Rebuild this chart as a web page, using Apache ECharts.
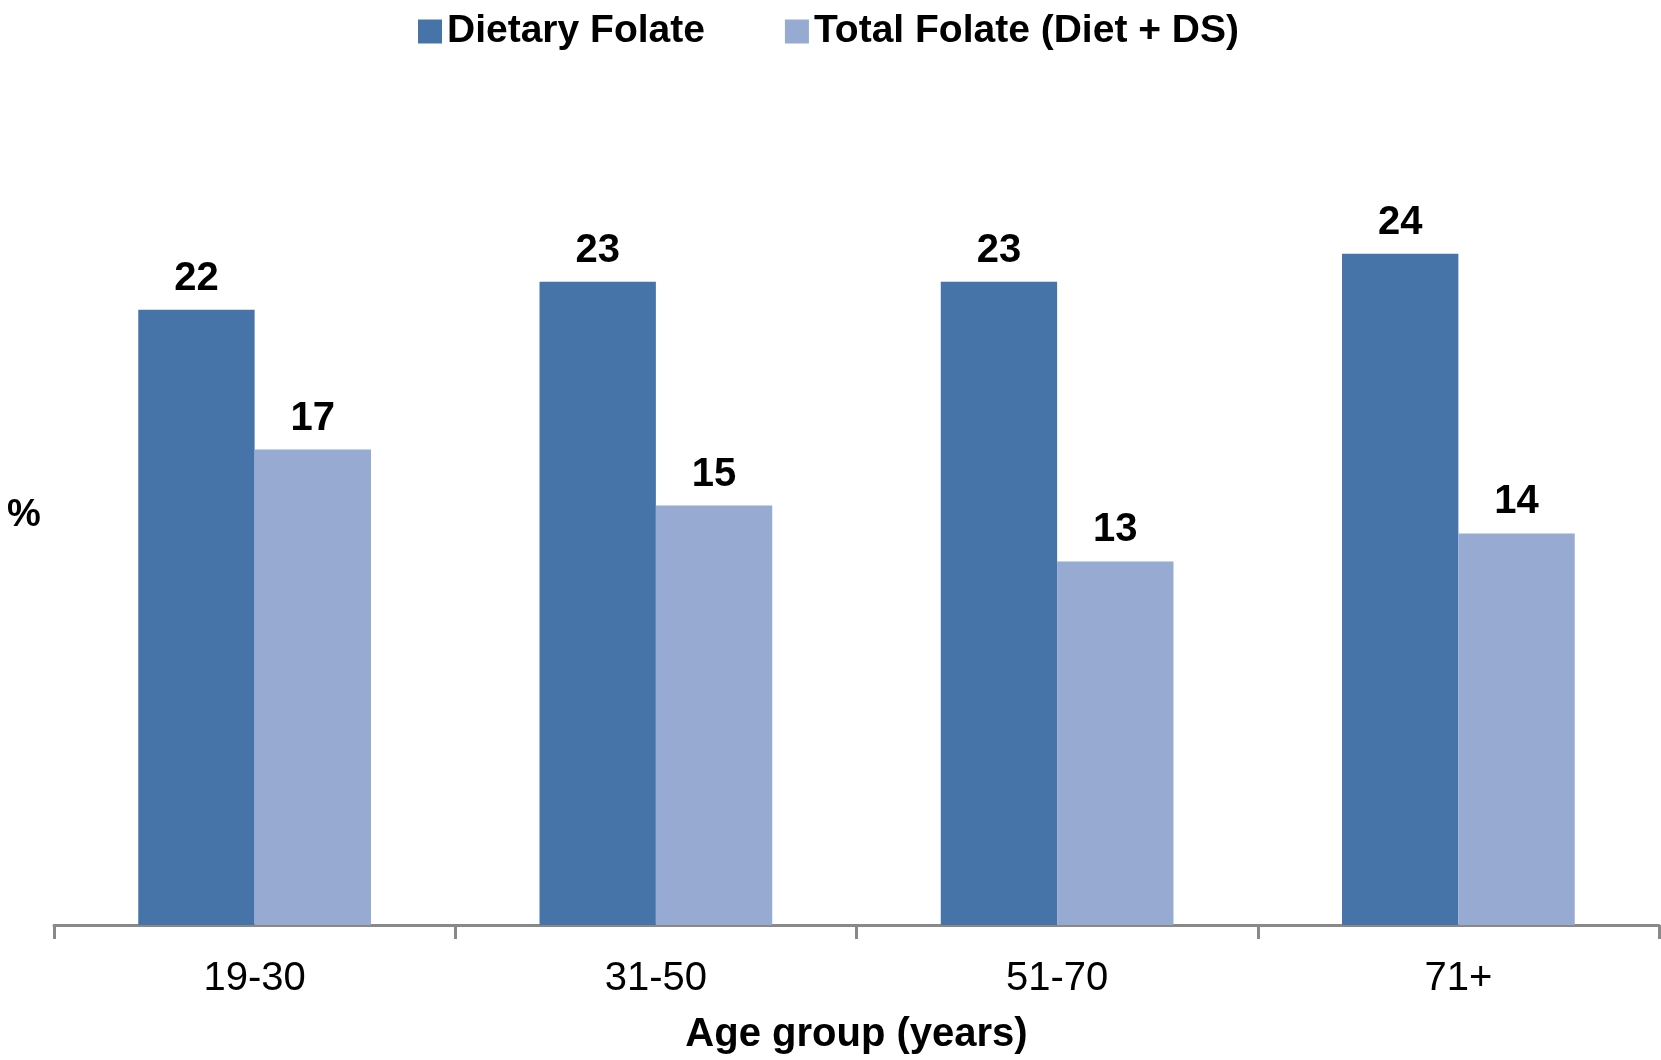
<!DOCTYPE html>
<html>
<head>
<meta charset="utf-8">
<style>
  html, body { margin: 0; padding: 0; background: #ffffff; }
  #chart { width: 1661px; height: 1060px; }
</style>
<script src="https://cdn.jsdelivr.net/npm/echarts@6/dist/echarts.min.js"></script>
</head>
<body>
<div id="chart"></div>
<script>
// Age groups and share (%) for each folate measure
const ageGroups = ['19-30', '31-50', '51-70', '71+'];
const dietaryFolate = [22, 23, 23, 24];
const totalFolate = [17, 15, 13, 14];
const seriesNames = ['Dietary Folate', 'Total Folate (Diet + DS)'];

const FONT = 'Liberation Sans, Arial, sans-serif';
const chart = echarts.init(document.getElementById('chart'));

const valueLabel = {
  show: true,
  position: 'top',
  distance: 11,
  color: '#000000',
  fontFamily: FONT,
  fontSize: 40,
  fontWeight: 'bold'
};

chart.setOption({
  animation: false,
  backgroundColor: '#ffffff',
  legend: {
    top: 7,
    left: 413,
    itemWidth: 24,
    itemHeight: 24,
    itemGap: 80,
    icon: 'rect',
    textStyle: { fontFamily: FONT, fontSize: 39, fontWeight: 'bold', color: '#000000' },
    data: seriesNames
  },
  grid: { left: 54, right: 2, top: 86, bottom: 132, containLabel: false },
  xAxis: {
    type: 'category',
    data: ageGroups,
    axisLine: { lineStyle: { color: '#898989', width: 3 } },
    axisTick: { show: true, length: 14, lineStyle: { color: '#898989', width: 3 } },
    axisLabel: { margin: 34, color: '#000000', fontFamily: FONT, fontSize: 40 },
    name: 'Age group (years)',
    nameLocation: 'middle',
    nameGap: 90,
    nameTextStyle: { color: '#000000', fontFamily: FONT, fontSize: 40, fontWeight: 'bold' }
  },
  yAxis: {
    type: 'value',
    min: 0,
    max: 30,
    show: false
  },
  graphic: [{
    type: 'text',
    left: 7,
    top: 497,
    style: { text: '%', fill: '#000000', font: 'bold 38px ' + FONT }
  }],
  series: [
    {
      name: seriesNames[0],
      type: 'bar',
      data: dietaryFolate,
      barGap: '0%',
      barCategoryGap: '42%',
      itemStyle: { color: '#4674A8' },
      label: valueLabel
    },
    {
      name: seriesNames[1],
      type: 'bar',
      data: totalFolate,
      itemStyle: { color: '#96AAD2' },
      label: valueLabel
    }
  ]
});
</script>
</body>
</html>
